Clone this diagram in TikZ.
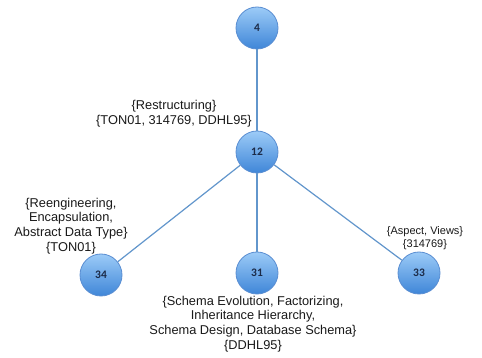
\documentclass[tikz,border=0pt]{standalone}
\usepackage{fontspec}
\setmainfont{Liberation Sans}
\newfontfamily\numfont{Carlito}
\definecolor{edgeblue}{HTML}{6296CC}
\definecolor{ringblue}{HTML}{5A8ED2}
\definecolor{topblue}{HTML}{9CCBF7}
\definecolor{botblue}{HTML}{3F86D8}
\definecolor{numtext}{HTML}{1C2B48}
\definecolor{labeltext}{HTML}{1A1A1A}
\begin{document}
\begin{tikzpicture}[x=1pt,y=-1pt,
  topic/.style={circle, minimum size=42pt, inner sep=0pt, draw=ringblue, line width=0.8pt,
    top color=topblue, bottom color=botblue, text=numtext,
    font=\numfont\bfseries\fontsize{11.5}{12}\selectfont},
  link/.style={draw=edgeblue, line width=1.2pt},
  tags/.style={align=center, text=labeltext, inner sep=0pt,
    font=\fontsize{12.8}{14.8}\selectfont},
  smalltags/.style={align=center, text=labeltext, inner sep=0pt,
    font=\fontsize{11}{12.5}\selectfont}]
  \fill[white] (0,0) rectangle (482,358);
  \useasboundingbox (0,0) rectangle (482,358);

  % topic nodes
  \node[topic] (n4)  at (257,28)  {4};
  \node[topic] (n12) at (257,152) {12};
  \node[topic] (n34) at (101,275) {34};
  \node[topic] (n31) at (257,273) {31};
  \node[topic] (n33) at (419,273) {33};

  % connectors between the circles
  \path[link] (n4) -- (n12);
  \path[link] (n12) -- (n34);
  \path[link] (n12) -- (n31);
  \path[link] (n12) -- (n33);

  % keyword / source labels
  \node[tags] (l12) at (174,114) {\{Restructuring\}\\\{TON01, 314769, DDHL95\}};
  \node[tags] (l34) at (71,226) {\{Reengineering,\\Encapsulation,\\Abstract Data Type\}\\\{TON01\}};
  \node[tags] (l31) at (253,324) {\{Schema Evolution, Factorizing,\\Inheritance Hierarchy,\\Schema Design, Database Schema\}\\\{DDHL95\}};
  \node[smalltags] (l33) at (425,238) {\{Aspect, Views\}\\\{314769\}};
\end{tikzpicture}
\end{document}
